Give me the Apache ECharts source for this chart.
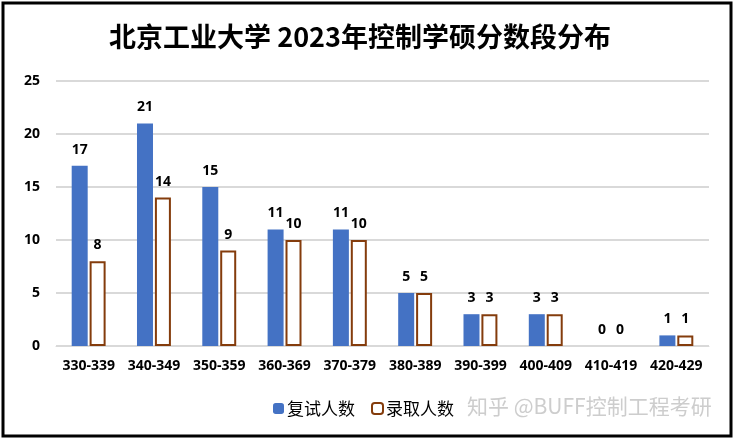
<!DOCTYPE html>
<html>
<head>
<meta charset="utf-8">
<script src="https://cdn.jsdelivr.net/npm/echarts@6/dist/echarts.min.js"></script>
<style>
  html, body { margin: 0; padding: 0; background: #fff; }
  #chart { width: 735px; height: 441px; }
</style>
</head>
<body>
<div id="chart"></div>
<script>
// score bands and counts
const categories = ["330-339", "340-349", "350-359", "360-369", "370-379",
  "380-389", "390-399", "400-409", "410-419", "420-429"];
const retestCounts = [17, 21, 15, 11, 11, 5, 3, 3, 0, 1];   // 复试人数
const admitCounts = [8, 14, 9, 10, 10, 5, 3, 3, 0, 1];      // 录取人数
const yTicks = { min: 0, max: 25, interval: 5 };

const numFont = "'Open Sans', 'Noto Sans', sans-serif";
const cjkFont = "'Noto Sans CJK SC', sans-serif";

const labelStyle = {
  show: true, position: "top", distance: 9,
  fontFamily: numFont, fontSize: 14, fontWeight: "bold", color: "#000"
};

// no outline on zero-height hollow bars
const admitData = admitCounts.map((v) =>
  v === 0 ? { value: v, itemStyle: { borderWidth: 0 } } : v
);

const chart = echarts.init(document.getElementById("chart"));
chart.setOption({
  animation: false,
  backgroundColor: "#fff",
  title: {
    text: "北京工业大学 2023年控制学硕分数段分布",
    left: 355,
    textAlign: "center",
    top: 18,
    textStyle: { fontFamily: cjkFont, fontSize: 27, fontWeight: "bold", color: "#000" }
  },
  legend: {
    left: 268,
    top: 395,
    itemWidth: 11,
    itemHeight: 11,
    itemGap: 16,
    textStyle: { fontFamily: cjkFont, fontSize: 17, color: "#000", padding: [0, 0, 0, -2] },
    data: ["复试人数", "录取人数"]
  },
  grid: { left: 56, right: 26, top: 81, bottom: 95 },
  xAxis: {
    type: "category",
    data: categories,
    axisTick: { show: false },
    axisLine: { lineStyle: { color: "#d9d9d9", width: 1 } },
    axisLabel: { fontFamily: numFont, fontSize: 14, fontWeight: "bold", color: "#000", margin: 13, interval: 0 }
  },
  yAxis: {
    type: "value",
    min: yTicks.min,
    max: yTicks.max,
    interval: yTicks.interval,
    axisLine: { show: false },
    axisTick: { show: false },
    splitLine: { lineStyle: { color: "#d9d9d9", width: 2 } },
    axisLabel: { fontFamily: numFont, fontSize: 14, fontWeight: "bold", color: "#000", margin: 16 }
  },
  series: [
    {
      name: "复试人数",
      type: "bar",
      data: retestCounts,
      barWidth: 16,
      barGap: "12%",
      itemStyle: { color: "#4472c4" },
      label: labelStyle
    },
    {
      name: "录取人数",
      type: "bar",
      data: admitData,
      barWidth: 16,
      itemStyle: { color: "#fff", borderColor: "#843c0c", borderWidth: 2 },
      label: labelStyle
    }
  ],
  graphic: [
    {
      type: "rect",
      shape: { x: 3, y: 3, width: 728, height: 433 },
      style: { fill: "none", stroke: "#000", lineWidth: 3 },
      silent: true
    },
    {
      type: "text",
      left: 467,
      top: 396,
      style: {
        text: "知乎 @BUFF控制工程考研",
        fontFamily: cjkFont,
        fontSize: 21,
        fill: "rgba(200,200,200,0.9)"
      },
      silent: true
    }
  ]
});
</script>
</body>
</html>
